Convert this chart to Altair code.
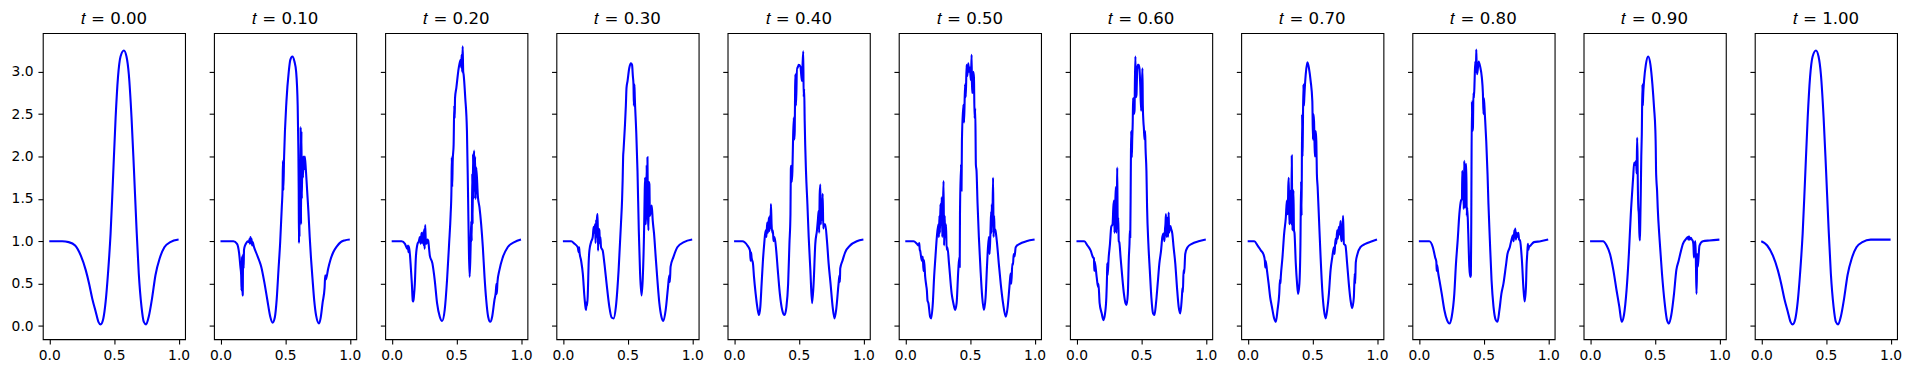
import altair as alt
import pandas as pd

TITLES = ["0.00", "0.10", "0.20", "0.30", "0.40", "0.50", "0.60", "0.70", "0.80", "0.90", "1.00"]
X_TICKS = [0.0, 0.5, 1.0]
Y_TICKS = [0.0, 0.5, 1.0, 1.5, 2.0, 2.5, 3.0]

P00 = [(0.0, 1.0), (0.05, 1.0), (0.1, 1.0), (0.15, 0.99), (0.2, 0.95), (0.244, 0.83), (0.282, 0.66),
       (0.308, 0.5), (0.333, 0.32), (0.359, 0.17), (0.38, 0.05), (0.397, 0.02), (0.418, 0.09), (0.436, 0.29),
       (0.454, 0.62), (0.474, 1.09), (0.492, 1.71), (0.513, 2.46), (0.531, 2.93), (0.551, 3.18), (0.577, 3.25),
       (0.597, 3.18), (0.615, 2.97), (0.636, 2.46), (0.654, 1.87), (0.674, 1.17), (0.692, 0.62), (0.713, 0.23),
       (0.731, 0.05), (0.749, 0.02), (0.769, 0.11), (0.795, 0.33), (0.821, 0.6), (0.854, 0.8), (0.89, 0.93),
       (0.936, 0.99), (1.0, 1.02)]

P01 = [(0.0, 1.0), (0.05, 1.0), (0.1, 1.0), (0.128, 0.97), (0.144, 0.86), (0.154, 0.7), (0.16, 0.6),
       (0.163, 0.42), (0.166, 0.82), (0.169, 0.36), (0.172, 0.37), (0.175, 0.85), (0.179, 0.68), (0.182, 0.9),
       (0.19, 0.95), (0.2, 0.98), (0.21, 1.0), (0.22, 0.99), (0.225, 1.03), (0.228, 0.97), (0.232, 1.05),
       (0.236, 0.98), (0.24, 1.03), (0.245, 0.95), (0.25, 0.99), (0.256, 0.95), (0.28, 0.85), (0.3, 0.77),
       (0.315, 0.7), (0.341, 0.5), (0.362, 0.31), (0.385, 0.11), (0.403, 0.04), (0.42, 0.1), (0.435, 0.32),
       (0.448, 0.65), (0.462, 1.0), (0.474, 1.4), (0.48, 1.62), (0.483, 1.95), (0.486, 1.6), (0.492, 2.0),
       (0.51, 2.65), (0.528, 3.0), (0.54, 3.14), (0.556, 3.18), (0.572, 3.12), (0.585, 3.0), (0.597, 2.6),
       (0.602, 2.1), (0.605, 1.6), (0.607, 0.98), (0.609, 1.5), (0.611, 1.05), (0.614, 1.8), (0.617, 1.2),
       (0.62, 2.35), (0.623, 1.2), (0.626, 2.3), (0.629, 1.5), (0.633, 2.0), (0.638, 1.75), (0.642, 2.0),
       (0.647, 1.85), (0.652, 2.0), (0.66, 1.85), (0.67, 1.6), (0.68, 1.35), (0.69, 1.05), (0.7, 0.8),
       (0.712, 0.55), (0.725, 0.3), (0.74, 0.12), (0.762, 0.03), (0.775, 0.1), (0.79, 0.28), (0.805, 0.45),
       (0.81, 0.6), (0.815, 0.55), (0.833, 0.68), (0.85, 0.78), (0.872, 0.87), (0.9, 0.94), (0.93, 0.99),
       (0.96, 1.01), (1.0, 1.02)]

P02 = [(0.0, 1.0), (0.05, 1.0), (0.077, 1.0), (0.103, 0.97), (0.121, 0.91), (0.126, 0.95), (0.13, 0.87),
       (0.134, 0.94), (0.146, 0.74), (0.156, 0.5), (0.163, 0.3), (0.167, 0.29), (0.172, 0.35), (0.179, 0.5),
       (0.187, 0.81), (0.2, 0.97), (0.21, 1.0), (0.218, 1.05), (0.224, 0.97), (0.231, 1.1), (0.236, 0.98),
       (0.244, 1.11), (0.248, 0.95), (0.251, 1.14), (0.255, 0.91), (0.259, 1.19), (0.264, 1.0), (0.269, 0.97),
       (0.275, 1.02), (0.282, 1.01), (0.29, 0.9), (0.295, 0.83), (0.315, 0.74), (0.333, 0.54), (0.351, 0.27),
       (0.372, 0.11), (0.39, 0.06), (0.41, 0.19), (0.428, 0.54), (0.444, 0.97), (0.456, 1.32), (0.462, 1.6),
       (0.465, 1.99), (0.468, 1.64), (0.472, 1.95), (0.479, 2.14), (0.484, 2.6), (0.487, 2.45), (0.49, 2.69),
       (0.5, 2.81), (0.518, 3.04), (0.533, 3.14), (0.538, 3.05), (0.541, 3.2), (0.545, 3.0), (0.549, 3.3),
       (0.553, 3.0), (0.556, 2.97), (0.569, 2.69), (0.582, 2.3), (0.59, 1.6), (0.597, 0.9), (0.603, 0.58),
       (0.61, 0.9), (0.615, 1.24), (0.619, 1.0), (0.623, 1.8), (0.626, 1.2), (0.629, 2.03), (0.633, 1.5),
       (0.637, 2.07), (0.641, 1.6), (0.645, 2.0), (0.649, 1.5), (0.654, 1.87), (0.667, 1.52), (0.679, 1.4),
       (0.692, 1.2), (0.705, 0.93), (0.718, 0.58), (0.731, 0.31), (0.746, 0.11), (0.762, 0.05), (0.777, 0.11),
       (0.795, 0.31), (0.805, 0.4), (0.81, 0.5), (0.813, 0.38), (0.818, 0.52), (0.833, 0.66), (0.859, 0.81),
       (0.897, 0.93), (0.949, 0.99), (1.0, 1.02)]

P03 = [(0.0, 1.0), (0.064, 1.0), (0.09, 0.97), (0.115, 0.93), (0.122, 0.87), (0.126, 0.93), (0.128, 0.88),
       (0.141, 0.77), (0.154, 0.62), (0.167, 0.34), (0.175, 0.22), (0.179, 0.19), (0.183, 0.28), (0.187, 0.24),
       (0.192, 0.35), (0.2, 0.77), (0.205, 0.89), (0.218, 0.99), (0.231, 1.05), (0.238, 1.17), (0.244, 1.1),
       (0.249, 1.2), (0.253, 0.98), (0.257, 1.25), (0.261, 1.05), (0.264, 1.28), (0.269, 1.32), (0.272, 0.89),
       (0.276, 1.15), (0.282, 1.13), (0.287, 0.97), (0.29, 1.05), (0.295, 0.93), (0.308, 0.89), (0.321, 0.74),
       (0.338, 0.5), (0.359, 0.23), (0.377, 0.1), (0.392, 0.09), (0.41, 0.23), (0.431, 0.66), (0.449, 1.2),
       (0.458, 1.5), (0.462, 1.71), (0.466, 2.0), (0.469, 2.07), (0.479, 2.34), (0.487, 2.6), (0.492, 2.81),
       (0.5, 2.89), (0.513, 3.04), (0.526, 3.1), (0.535, 3.08), (0.541, 2.95), (0.546, 2.85), (0.549, 2.6),
       (0.553, 2.85), (0.556, 2.7), (0.567, 2.3), (0.577, 1.83), (0.587, 1.13), (0.597, 0.62), (0.608, 0.36),
       (0.618, 0.57), (0.628, 1.13), (0.633, 1.6), (0.636, 1.75), (0.64, 1.2), (0.644, 1.32), (0.648, 1.9),
       (0.651, 1.4), (0.654, 1.99), (0.658, 1.3), (0.662, 1.13), (0.665, 1.7), (0.669, 1.67), (0.673, 1.3),
       (0.679, 1.36), (0.687, 1.42), (0.695, 1.24), (0.705, 1.09), (0.718, 0.81), (0.731, 0.54), (0.746, 0.27),
       (0.762, 0.11), (0.777, 0.06), (0.795, 0.19), (0.813, 0.46), (0.823, 0.6), (0.827, 0.52), (0.833, 0.7),
       (0.854, 0.81), (0.885, 0.93), (0.936, 0.99), (1.0, 1.02)]

P04 = [(0.0, 1.0), (0.064, 1.0), (0.103, 0.95), (0.123, 0.89), (0.128, 0.77), (0.131, 0.87), (0.136, 0.8),
       (0.146, 0.74), (0.154, 0.58), (0.167, 0.38), (0.179, 0.23), (0.192, 0.13), (0.203, 0.23), (0.213, 0.5),
       (0.223, 0.77), (0.233, 0.97), (0.244, 1.13), (0.25, 1.05), (0.256, 1.22), (0.262, 1.1), (0.269, 1.28),
       (0.274, 1.12), (0.277, 1.3), (0.281, 1.15), (0.285, 1.44), (0.29, 1.2), (0.295, 1.1), (0.3, 1.13),
       (0.305, 1.0), (0.313, 1.05), (0.326, 0.89), (0.338, 0.66), (0.354, 0.38), (0.372, 0.19), (0.39, 0.13),
       (0.405, 0.23), (0.418, 0.5), (0.428, 0.97), (0.436, 1.32), (0.439, 1.85), (0.441, 1.89), (0.446, 1.7),
       (0.451, 1.83), (0.456, 2.2), (0.462, 2.46), (0.466, 2.2), (0.469, 2.3), (0.472, 2.8), (0.474, 2.97),
       (0.478, 2.6), (0.482, 2.77), (0.486, 3.05), (0.49, 3.04), (0.5, 3.08), (0.513, 3.06), (0.52, 2.95),
       (0.526, 2.89), (0.53, 3.1), (0.535, 3.24), (0.538, 2.7), (0.542, 2.8), (0.546, 2.42), (0.556, 1.83),
       (0.567, 1.44), (0.577, 1.05), (0.59, 0.66), (0.603, 0.27), (0.615, 0.5), (0.628, 0.97), (0.641, 1.13),
       (0.648, 1.25), (0.654, 1.36), (0.658, 1.1), (0.662, 1.55), (0.667, 1.67), (0.671, 1.2), (0.674, 1.45),
       (0.679, 1.25), (0.685, 1.56), (0.69, 1.15), (0.695, 1.2), (0.705, 1.2), (0.718, 1.01), (0.731, 0.74),
       (0.746, 0.5), (0.762, 0.23), (0.777, 0.09), (0.79, 0.2), (0.808, 0.5), (0.815, 0.6), (0.818, 0.52),
       (0.821, 0.68), (0.838, 0.77), (0.859, 0.87), (0.897, 0.95), (0.949, 1.0), (1.0, 1.02)]

P05 = [(0.0, 1.0), (0.064, 1.0), (0.09, 0.97), (0.103, 0.95), (0.108, 0.98), (0.112, 0.9), (0.115, 0.89),
       (0.128, 0.77), (0.135, 0.82), (0.141, 0.65), (0.145, 0.78), (0.154, 0.58), (0.162, 0.48), (0.167, 0.42),
       (0.172, 0.3), (0.179, 0.27), (0.192, 0.11), (0.2, 0.09), (0.213, 0.27), (0.223, 0.58), (0.233, 0.81),
       (0.244, 1.05), (0.256, 1.2), (0.26, 1.05), (0.264, 1.3), (0.268, 1.1), (0.272, 1.44), (0.276, 1.2),
       (0.282, 1.52), (0.286, 1.05), (0.29, 1.28), (0.296, 1.71), (0.3, 0.95), (0.305, 1.3), (0.308, 1.05),
       (0.315, 1.2), (0.32, 0.9), (0.326, 0.93), (0.338, 0.74), (0.359, 0.38), (0.372, 0.27), (0.385, 0.19),
       (0.397, 0.27), (0.41, 0.66), (0.418, 0.81), (0.421, 0.7), (0.423, 1.32), (0.431, 1.91), (0.435, 1.6),
       (0.438, 2.18), (0.449, 2.61), (0.455, 2.4), (0.462, 2.85), (0.468, 2.7), (0.474, 3.08), (0.48, 2.95),
       (0.487, 3.1), (0.494, 3.0), (0.5, 3.05), (0.507, 2.9), (0.513, 3.2), (0.516, 2.75), (0.521, 2.77),
       (0.526, 3.0), (0.531, 2.93), (0.536, 2.45), (0.541, 2.57), (0.546, 1.9), (0.551, 1.83), (0.559, 1.44),
       (0.569, 1.05), (0.582, 0.66), (0.595, 0.34), (0.608, 0.19), (0.621, 0.34), (0.633, 0.74), (0.646, 1.05),
       (0.652, 0.85), (0.659, 1.13), (0.664, 1.35), (0.667, 1.1), (0.669, 1.44), (0.673, 1.2), (0.679, 1.75),
       (0.683, 1.05), (0.687, 1.3), (0.69, 1.15), (0.697, 1.13), (0.71, 0.97), (0.723, 0.74), (0.738, 0.5),
       (0.756, 0.27), (0.777, 0.11), (0.792, 0.23), (0.803, 0.42), (0.81, 0.55), (0.815, 0.62), (0.82, 0.5),
       (0.828, 0.74), (0.833, 0.72), (0.838, 0.85), (0.845, 0.82), (0.854, 0.93), (0.885, 0.97), (0.936, 1.0),
       (1.0, 1.02)]

P06 = [(0.0, 1.0), (0.06, 1.0), (0.085, 0.95), (0.11, 0.89), (0.128, 0.81), (0.135, 0.8), (0.138, 0.65),
       (0.141, 0.76), (0.156, 0.58), (0.167, 0.46), (0.17, 0.5), (0.179, 0.27), (0.195, 0.15), (0.208, 0.07),
       (0.221, 0.15), (0.231, 0.34), (0.236, 0.58), (0.238, 0.74), (0.241, 0.6), (0.249, 0.81), (0.259, 0.97),
       (0.269, 1.17), (0.279, 1.2), (0.285, 1.4), (0.29, 1.48), (0.294, 1.1), (0.297, 1.3), (0.301, 1.5),
       (0.305, 1.64), (0.308, 1.1), (0.31, 1.2), (0.313, 1.5), (0.315, 1.87), (0.319, 1.2), (0.323, 1.28),
       (0.327, 1.0), (0.331, 0.99), (0.341, 0.81), (0.354, 0.58), (0.367, 0.38), (0.379, 0.27), (0.387, 0.25),
       (0.397, 0.38), (0.405, 0.81), (0.41, 0.97), (0.413, 1.13), (0.416, 1.05), (0.42, 1.8), (0.423, 2.3),
       (0.428, 1.99), (0.431, 2.2), (0.435, 2.4), (0.438, 2.69), (0.443, 2.5), (0.449, 2.54), (0.452, 2.9),
       (0.456, 3.18), (0.46, 2.7), (0.464, 2.73), (0.469, 3.0), (0.474, 3.08), (0.48, 3.08), (0.487, 3.04),
       (0.493, 2.85), (0.5, 2.54), (0.505, 2.75), (0.51, 3.04), (0.513, 2.6), (0.518, 2.4), (0.521, 2.34),
       (0.526, 2.2), (0.531, 2.3), (0.534, 2.1), (0.541, 1.83), (0.546, 1.4), (0.556, 0.97), (0.567, 0.66),
       (0.579, 0.34), (0.592, 0.15), (0.603, 0.13), (0.615, 0.27), (0.628, 0.5), (0.641, 0.74), (0.654, 0.89),
       (0.664, 1.05), (0.674, 1.09), (0.68, 1.0), (0.685, 1.15), (0.688, 1.2), (0.692, 1.32), (0.697, 1.05),
       (0.702, 1.2), (0.705, 1.28), (0.708, 1.05), (0.713, 1.34), (0.716, 1.1), (0.721, 1.15), (0.726, 1.18),
       (0.731, 1.15), (0.741, 1.09), (0.751, 0.93), (0.764, 0.74), (0.777, 0.46), (0.79, 0.23), (0.803, 0.15),
       (0.815, 0.34), (0.82, 0.45), (0.823, 0.4), (0.828, 0.66), (0.833, 0.62), (0.841, 0.85), (0.859, 0.93),
       (0.892, 0.97), (0.944, 1.0), (1.0, 1.02)]

P07 = [(0.0, 1.0), (0.051, 1.0), (0.077, 0.95), (0.103, 0.89), (0.121, 0.85), (0.133, 0.77), (0.136, 0.69),
       (0.139, 0.77), (0.149, 0.66), (0.162, 0.5), (0.174, 0.34), (0.187, 0.23), (0.205, 0.09), (0.218, 0.05),
       (0.231, 0.19), (0.244, 0.38), (0.25, 0.55), (0.253, 0.5), (0.256, 0.58), (0.269, 0.81), (0.282, 1.09),
       (0.295, 1.28), (0.303, 1.48), (0.307, 1.35), (0.31, 1.32), (0.314, 1.65), (0.318, 1.75), (0.322, 1.2),
       (0.326, 1.28), (0.33, 1.5), (0.333, 1.6), (0.337, 1.2), (0.341, 2.01), (0.344, 1.4), (0.346, 1.13),
       (0.35, 1.35), (0.354, 1.6), (0.358, 1.13), (0.362, 1.1), (0.372, 0.74), (0.382, 0.5), (0.39, 0.38),
       (0.4, 0.5), (0.408, 0.97), (0.413, 1.71), (0.417, 1.3), (0.421, 2.5), (0.424, 2.0), (0.426, 2.2),
       (0.431, 2.85), (0.435, 2.6), (0.438, 2.7), (0.449, 2.97), (0.462, 3.11), (0.474, 3.04), (0.487, 2.89),
       (0.5, 2.65), (0.505, 2.2), (0.508, 2.5), (0.513, 2.42), (0.518, 2.1), (0.521, 2.0), (0.526, 2.3),
       (0.531, 2.18), (0.535, 1.8), (0.541, 1.64), (0.551, 1.28), (0.564, 0.81), (0.577, 0.42), (0.59, 0.19),
       (0.603, 0.09), (0.615, 0.19), (0.628, 0.38), (0.641, 0.66), (0.654, 0.81), (0.667, 0.93), (0.672, 0.85),
       (0.679, 1.03), (0.685, 0.97), (0.692, 1.13), (0.697, 1.03), (0.705, 1.17), (0.71, 1.08), (0.718, 1.24),
       (0.722, 1.05), (0.726, 1.0), (0.731, 1.09), (0.738, 1.3), (0.744, 0.97), (0.756, 0.95), (0.769, 0.74),
       (0.782, 0.5), (0.795, 0.31), (0.808, 0.21), (0.821, 0.34), (0.828, 0.62), (0.831, 0.5), (0.836, 0.75),
       (0.849, 0.85), (0.872, 0.93), (0.91, 0.97), (0.962, 1.0), (1.0, 1.02)]

P08 = [(0.0, 1.0), (0.08, 1.0), (0.108, 0.93), (0.126, 0.81), (0.135, 0.76), (0.138, 0.65), (0.141, 0.72),
       (0.15, 0.62), (0.159, 0.54), (0.177, 0.38), (0.197, 0.19), (0.218, 0.07), (0.236, 0.03), (0.254, 0.11),
       (0.274, 0.38), (0.287, 0.74), (0.3, 1.01), (0.313, 1.32), (0.326, 1.48), (0.333, 1.5), (0.336, 1.83),
       (0.34, 1.6), (0.344, 1.65), (0.347, 1.38), (0.351, 1.95), (0.355, 1.5), (0.359, 1.4), (0.363, 1.9),
       (0.367, 1.91), (0.37, 1.3), (0.374, 1.4), (0.382, 1.09), (0.39, 0.7), (0.397, 0.58), (0.402, 0.6),
       (0.405, 1.17), (0.41, 2.65), (0.414, 2.3), (0.418, 2.34), (0.422, 2.75), (0.426, 2.69), (0.431, 2.9),
       (0.436, 3.12), (0.441, 3.0), (0.444, 3.26), (0.447, 3.05), (0.451, 2.97), (0.462, 3.12), (0.474, 3.06),
       (0.487, 2.93), (0.495, 2.75), (0.5, 2.5), (0.503, 2.69), (0.51, 2.5), (0.521, 2.18), (0.531, 1.79),
       (0.538, 1.44), (0.549, 1.01), (0.562, 0.54), (0.577, 0.23), (0.595, 0.07), (0.608, 0.05), (0.623, 0.19),
       (0.638, 0.38), (0.654, 0.5), (0.672, 0.7), (0.685, 0.85), (0.703, 0.93), (0.715, 1.01), (0.728, 1.07),
       (0.733, 1.0), (0.738, 1.13), (0.741, 1.05), (0.746, 1.15), (0.75, 1.02), (0.756, 1.1), (0.762, 1.05),
       (0.769, 1.1), (0.775, 1.02), (0.782, 1.01), (0.797, 0.77), (0.808, 0.46), (0.818, 0.29), (0.828, 0.46),
       (0.833, 0.72), (0.838, 0.85), (0.843, 0.97), (0.846, 0.9), (0.851, 0.93), (0.864, 0.95), (0.89, 0.99),
       (0.941, 1.0), (1.0, 1.02)]

P09 = [(0.0, 1.0), (0.1, 1.0), (0.128, 0.95), (0.154, 0.85), (0.18, 0.66), (0.205, 0.42), (0.226, 0.23),
       (0.244, 0.05), (0.262, 0.13), (0.282, 0.42), (0.3, 0.85), (0.315, 1.32), (0.333, 1.75), (0.341, 1.93),
       (0.349, 1.9), (0.356, 1.95), (0.36, 1.8), (0.364, 2.22), (0.367, 2.0), (0.369, 1.7), (0.373, 1.4),
       (0.377, 1.32), (0.381, 1.1), (0.385, 1.01), (0.388, 1.2), (0.392, 1.56), (0.396, 2.0), (0.4, 2.26),
       (0.405, 2.85), (0.408, 2.6), (0.41, 2.7), (0.418, 2.9), (0.431, 3.08), (0.449, 3.18), (0.467, 3.08),
       (0.482, 2.85), (0.495, 2.57), (0.505, 2.3), (0.508, 2.1), (0.51, 1.85), (0.513, 1.72), (0.518, 1.6),
       (0.523, 1.4), (0.538, 1.01), (0.556, 0.62), (0.577, 0.27), (0.595, 0.07), (0.61, 0.03), (0.628, 0.13),
       (0.649, 0.38), (0.667, 0.66), (0.685, 0.77), (0.697, 0.85), (0.718, 0.97), (0.744, 1.03), (0.755, 1.05),
       (0.76, 1.02), (0.765, 1.06), (0.77, 1.02), (0.78, 1.04), (0.787, 1.02), (0.795, 1.0), (0.8, 0.93),
       (0.803, 0.81), (0.807, 0.95), (0.815, 1.0), (0.819, 0.7), (0.823, 0.38), (0.826, 0.6), (0.828, 0.85),
       (0.832, 0.7), (0.836, 0.75), (0.846, 0.95), (0.872, 1.0), (0.923, 1.01), (1.0, 1.02)]

P10 = [(0.0, 1.0), (0.046, 0.95), (0.09, 0.83), (0.128, 0.66), (0.154, 0.5), (0.179, 0.32), (0.205, 0.17),
       (0.226, 0.05), (0.243, 0.02), (0.264, 0.09), (0.282, 0.29), (0.3, 0.62), (0.32, 1.09), (0.338, 1.71),
       (0.359, 2.46), (0.377, 2.93), (0.397, 3.18), (0.423, 3.25), (0.443, 3.18), (0.461, 2.97), (0.482, 2.46),
       (0.5, 1.87), (0.52, 1.17), (0.538, 0.62), (0.559, 0.23), (0.577, 0.05), (0.595, 0.02), (0.615, 0.11),
       (0.641, 0.33), (0.667, 0.6), (0.7, 0.8), (0.736, 0.93), (0.782, 0.99), (0.846, 1.02), (0.9, 1.02),
       (1.0, 1.02)]

PANELS = [P00, P01, P02, P03, P04, P05, P06, P07, P08, P09, P10]

FONT = "DejaVu Sans"
charts = []
for k, (lab, pts) in enumerate(zip(TITLES, PANELS)):
    df = pd.DataFrame(pts, columns=["x", "y"])
    df["i"] = range(len(df))
    ch = (
        alt.Chart(df, title=alt.TitleParams("𝑡 = " + lab, frame="group"))
        .mark_line(color="#0000ff", strokeWidth=2.1, interpolate="monotone")
        .encode(
            x=alt.X("x:Q", scale=alt.Scale(domain=[-0.05, 1.05], nice=False, zero=False),
                    axis=alt.Axis(values=X_TICKS, format=".1f", title=None)),
            y=alt.Y("y:Q", scale=alt.Scale(domain=[-0.155, 3.455], nice=False, zero=False),
                    axis=alt.Axis(values=Y_TICKS, format=".1f", title=None, labels=(k == 0))),
            order="i:Q",
        )
        .properties(width=143, height=307.7)
    )
    charts.append(ch)

chart = (
    alt.hconcat(*charts, spacing=29.1, bounds="flush")
    .properties(padding={"left": 2, "top": 1.3, "right": 5, "bottom": 5}, background="white")
    .configure_view(stroke="black", strokeWidth=1.1)
    .configure_axis(domain=False, grid=False, tickColor="black", tickSize=4.9, tickWidth=1.1,
                    labelFont=FONT, labelFontSize=13.9, labelColor="black", labelPadding=4.9,
                    labelFlush=False, labelOverlap=False)
    .configure_title(font=FONT, fontSize=16.7, fontWeight="normal", color="black", offset=5.7,
                     baseline="alphabetic")
)

chart.save("out.html", embed_options={"renderer": "svg", "actions": False})
